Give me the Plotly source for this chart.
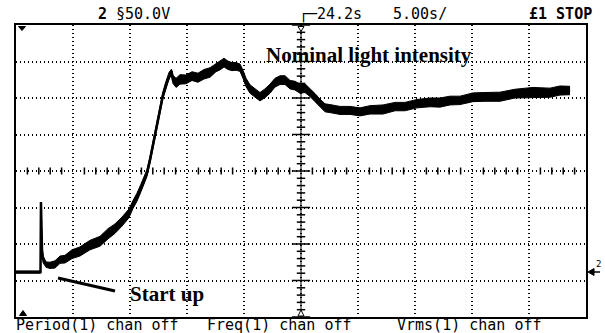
import plotly.graph_objects as go

# ---- data (time in s, level in divisions from centre) ----
time_s = [0, 2.15, 2.19, 2.28, 2.37, 2.63, 2.98, 3.42, 3.86, 4.30,
          4.91, 5.61, 6.49, 7.37, 8.07, 8.68, 9.30, 9.91, 10.26, 10.61,
          10.96, 11.32, 11.49, 11.75, 12.02, 12.37, 12.63, 12.89, 13.16, 13.42,
          13.64, 13.77, 14.04, 14.39, 14.91, 15.44, 15.96, 16.49, 17.02, 17.54,
          17.89, 18.25, 18.60, 18.95, 19.30, 19.65, 19.91, 20.18, 20.53, 20.96,
          21.40, 21.84, 22.28, 22.72, 23.16, 23.60, 24.04, 24.47, 24.91, 25.35,
          25.79, 26.23, 26.67, 27.11, 27.54, 28.42, 29.30, 30.18, 31.05, 32.19,
          33.25, 34.12, 35.18, 36.32, 37.19, 38.07, 38.95, 40.09, 41.14, 42.46,
          43.77, 45.35, 46.84, 47.72, 48.60]
level_div = [-2.77, -2.77, -0.85, -2.16, -2.40, -2.55, -2.60, -2.53, -2.45, -2.40,
             -2.30, -2.18, -2.05, -1.90, -1.74, -1.57, -1.40, -1.15, -0.93, -0.71,
             -0.47, -0.19, -0.05, 0.30, 0.71, 1.21, 1.67, 2.08, 2.36, 2.60,
             2.74, 2.49, 2.44, 2.49, 2.52, 2.58, 2.58, 2.63, 2.71, 2.82,
             2.88, 2.99, 2.88, 2.88, 2.85, 2.85, 2.66, 2.41, 2.27, 2.14,
             2.05, 2.11, 2.27, 2.41, 2.52, 2.47, 2.38, 2.33, 2.27, 2.25,
             2.16, 2.00, 1.86, 1.75, 1.70, 1.67, 1.64, 1.64, 1.67, 1.70,
             1.75, 1.78, 1.84, 1.86, 1.89, 1.92, 1.95, 2.00, 2.03, 2.05,
             2.11, 2.14, 2.16, 2.19, 2.22]
noise_up = [0.03, 0.03, 0.00, 0.03, 0.08, 0.06, 0.10, 0.07, 0.12, 0.09,
            0.14, 0.10, 0.15, 0.11, 0.16, 0.12, 0.14, 0.11, 0.12, 0.10,
            0.11, 0.10, 0.09, 0.09, 0.10, 0.09, 0.10, 0.09, 0.10, 0.10,
            0.05, 0.13, 0.10, 0.15, 0.11, 0.14, 0.10, 0.15, 0.12, 0.13,
            0.15, 0.10, 0.13, 0.09, 0.12, 0.08, 0.10, 0.13, 0.09, 0.12,
            0.10, 0.14, 0.11, 0.13, 0.09, 0.14, 0.10, 0.13, 0.11, 0.14,
            0.10, 0.12, 0.11, 0.09, 0.12, 0.10, 0.13, 0.09, 0.12, 0.11,
            0.13, 0.10, 0.12, 0.14, 0.11, 0.13, 0.10, 0.14, 0.12, 0.11,
            0.13, 0.15, 0.11, 0.14, 0.10]
noise_down = [0.03, 0.03, 0.00, 0.04, 0.11, 0.09, 0.07, 0.13, 0.08, 0.12,
              0.10, 0.15, 0.11, 0.16, 0.12, 0.14, 0.11, 0.13, 0.10, 0.12,
              0.10, 0.11, 0.10, 0.10, 0.09, 0.10, 0.09, 0.10, 0.11, 0.08,
              0.10, 0.09, 0.15, 0.11, 0.13, 0.10, 0.15, 0.11, 0.14, 0.10,
              0.11, 0.14, 0.10, 0.13, 0.09, 0.12, 0.12, 0.10, 0.14, 0.11,
              0.13, 0.10, 0.14, 0.11, 0.15, 0.10, 0.13, 0.11, 0.14, 0.10,
              0.12, 0.10, 0.11, 0.13, 0.10, 0.12, 0.09, 0.13, 0.11, 0.14,
              0.10, 0.13, 0.11, 0.10, 0.14, 0.11, 0.13, 0.10, 0.12, 0.14,
              0.11, 0.12, 0.14, 0.11, 0.13]

# screen scale: 10 horizontal divisions of 5 s, 8 vertical divisions
time_per_div = 5
n_hdiv = 10
n_vdiv = 8

assert len(time_s) == len(level_div) == len(noise_up) == len(noise_down)

upper = [v + u for v, u in zip(level_div, noise_up)]
lower = [v - d for v, d in zip(level_div, noise_down)]

W, H = 605, 333
L, R, T, B = 16, 19, 25, 16
PW, PH = W - L - R, H - T - B


def pxx(x):
    return (x - L) / PW


def pxy(y):
    return (H - B - y) / PH


MONO = "DejaVu Sans Mono"
SERIF = "Liberation Serif"

fig = go.Figure()

# trace band (noise) + centre line
fig.add_trace(go.Scatter(x=time_s, y=upper, mode="lines", line=dict(width=1, color="black"),
                         hoverinfo="skip", showlegend=False))
fig.add_trace(go.Scatter(x=time_s, y=lower, mode="lines", line=dict(width=1, color="black"),
                         fill="tonexty", fillcolor="black", hoverinfo="skip", showlegend=False))
fig.add_trace(go.Scatter(x=time_s, y=level_div, mode="lines", line=dict(width=2.5, color="black"),
                         hoverinfo="skip", showlegend=False))

# centre graticule tick marks
xc = time_per_div * n_hdiv / 2
minor_v = [i / 5 for i in range(-n_vdiv * 5 // 2, n_vdiv * 5 // 2 + 1) if i % 5 != 0]
major_v = [i for i in range(-n_vdiv // 2, n_vdiv // 2 + 1)]
minor_h = [i for i in range(1, time_per_div * n_hdiv) if i % time_per_div != 0]
fig.add_trace(go.Scatter(x=[xc] * len(minor_v), y=minor_v, mode="markers",
                         marker=dict(symbol="line-ew", size=6, line=dict(width=1.5, color="black")),
                         hoverinfo="skip", showlegend=False))
fig.add_trace(go.Scatter(x=[xc] * len(major_v), y=major_v, mode="markers",
                         marker=dict(symbol="line-ew", size=13, line=dict(width=1.5, color="black")),
                         hoverinfo="skip", showlegend=False))
fig.add_trace(go.Scatter(x=minor_h, y=[0] * len(minor_h), mode="markers",
                         marker=dict(symbol="line-ns", size=5, line=dict(width=1.5, color="black")),
                         hoverinfo="skip", showlegend=False))


def tri(cx, cy, w, h, down=True, filled=True):
    if down:
        p = f"M {pxx(cx - w / 2)} {pxy(cy - h / 2)} L {pxx(cx + w / 2)} {pxy(cy - h / 2)} L {pxx(cx)} {pxy(cy + h / 2)} Z"
    else:
        p = f"M {pxx(cx - w / 2)} {pxy(cy + h / 2)} L {pxx(cx + w / 2)} {pxy(cy + h / 2)} L {pxx(cx)} {pxy(cy - h / 2)} Z"
    return dict(type="path", xref="paper", yref="paper", path=p,
                fillcolor="black" if filled else "white", line=dict(color="black", width=1))


shapes = [
    dict(type="line", xref="x", yref="paper", x0=xc, x1=xc, y0=0, y1=1,
         line=dict(color="black", width=1)),
    dict(type="line", xref="paper", yref="paper", x0=pxx(58), y0=pxy(278), x1=pxx(115), y1=pxy(291),
         line=dict(color="black", width=3)),
    tri(22, 28.5, 7, 4, down=True),
    tri(23, 313, 7, 5, down=False),
    tri(301, 29, 6, 5, down=True, filled=False),
    tri(301, 313, 6, 6, down=False, filled=False),
    # channel-2 ground marker on the right edge
    dict(type="path", xref="paper", yref="paper",
         path=f"M {pxx(588)} {pxy(272)} L {pxx(594)} {pxy(268.5)} L {pxx(594)} {pxy(275.5)} Z",
         fillcolor="black", line=dict(color="black", width=1)),
    dict(type="line", xref="paper", yref="paper", x0=pxx(592), y0=pxy(272), x1=pxx(600), y1=pxy(272),
         line=dict(color="black", width=1.5)),
]

ann = []


def text(x, y, s, size=15, family=MONO, xanchor="left", yanchor="middle", color="black"):
    ann.append(dict(x=pxx(x), y=pxy(y), xref="paper", yref="paper", text=s, showarrow=False,
                    xanchor=xanchor, yanchor=yanchor, font=dict(family=family, size=size, color=color)))


text(96, 14, "<b>2</b>")
text(114, 14, "§50.0V")
text(297, 14, "┌─")
text(315, 14, "24.2s")
text(391, 14, "5.00s/")
text(527, 14, "<b>£1 STOP</b>")
text(14, 325, "Period(1) chan off")
text(205, 325, "Freq(1) chan off")
text(395, 325, "Vrms(1) chan off")
text(369, 55, "<b>Nominal light intensity</b>", size=21, family=SERIF, xanchor="center")
text(128, 294, "<b>Start up</b>", size=21, family=SERIF)
text(598, 264, "2", size=9, xanchor="center")

fig.update_layout(
    width=W, height=H,
    margin=dict(l=L, r=R, t=T, b=B, pad=0),
    paper_bgcolor="white", plot_bgcolor="white",
    shapes=shapes, annotations=ann,
    showlegend=False,
    xaxis=dict(range=[0, time_per_div * n_hdiv], dtick=time_per_div, tick0=0,
               showgrid=True, gridcolor="black", gridwidth=1.5, griddash="1px,3px",
               showline=True, linecolor="black", linewidth=2, mirror=True,
               showticklabels=False, ticks="", zeroline=False, fixedrange=True),
    yaxis=dict(range=[-n_vdiv / 2, n_vdiv / 2], dtick=1, tick0=0,
               showgrid=True, gridcolor="black", gridwidth=1.5, griddash="1px,3px",
               showline=True, linecolor="black", linewidth=2, mirror=True,
               showticklabels=False, ticks="", zeroline=False, fixedrange=True),
)

fig.write_html("out.html")
